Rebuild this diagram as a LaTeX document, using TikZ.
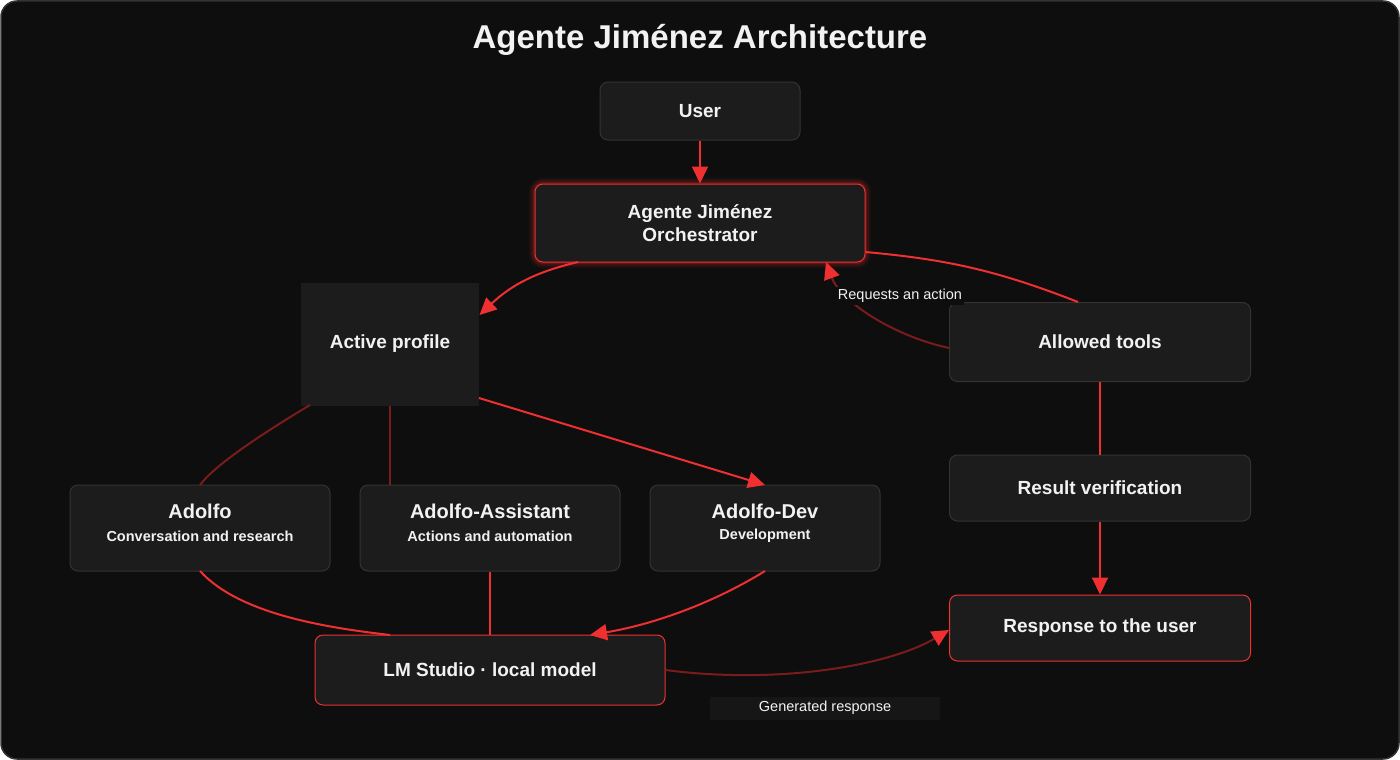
\documentclass[tikz,border=0pt]{standalone}
\usepackage{fontspec}
\setmainfont{Liberation Sans}
\usetikzlibrary{arrows.meta}
\definecolor{bg}{HTML}{0E0E0E}
\definecolor{boxf}{HTML}{1C1C1C}
\definecolor{boxd}{HTML}{333333}
\definecolor{rd}{HTML}{F03030}
\definecolor{drd}{HTML}{7A1C1C}
\definecolor{txt}{HTML}{F2F2F2}
\begin{document}
\begin{tikzpicture}[x=1pt,y=-1pt,
  box/.style={draw=boxd,fill=boxf,rounded corners=8pt,line width=1pt,text=txt,font=\bfseries\fontsize{19}{23}\selectfont,align=center},
  hot/.style={box,draw=rd},
  ln/.style={draw=rd,line width=2pt},
  dln/.style={draw=drd,line width=2pt},
  arr/.style={-{Triangle[length=17pt,width=16pt,color=rd]}},
  sub/.style={font=\bfseries\fontsize{14.5}{17}\selectfont,text=txt},
  lab/.style={font=\fontsize{14.5}{17}\selectfont,text=txt}]
\useasboundingbox (0,0) rectangle (1400,760);
\fill[bg,rounded corners=16pt,draw=boxd,line width=1.5pt] (1,1) rectangle (1399,759);
\node[text=txt,font=\bfseries\fontsize{33}{38}\selectfont] (title) at (700,40) {Agente Jiménez Architecture};
% nodes
\node[box,minimum width=200pt,minimum height=58pt] (user) at (700,111) {User};
\foreach \w/\o in {12/0.08,8/0.12,4/0.2}{
  \draw[rd,line width=\w pt,rounded corners=8pt,opacity=\o] (535,184) rectangle (865,262);}
\node[hot,minimum width=330pt,minimum height=78pt] (orch) at (700,223) {Agente Jiménez\\Orchestrator};
\node[box,draw=none,rounded corners=0pt,minimum width=178pt,minimum height=123pt] (act) at (390,344) {Active profile};
\node[box,minimum width=260pt,minimum height=86pt] (ad) at (200,528) {};
\node[text=txt,font=\bfseries\fontsize{20}{23}\selectfont] (adt) at (200,511) {Adolfo};
\node[sub] (ads) at (200,536) {Conversation and research};
\node[box,minimum width=260pt,minimum height=86pt] (as) at (490,528) {};
\node[text=txt,font=\bfseries\fontsize{20}{23}\selectfont] (ast) at (490,511) {Adolfo-Assistant};
\node[sub] (ass) at (490,536) {Actions and automation};
\node[box,minimum width=230pt,minimum height=86pt] (dv) at (765,528) {};
\node[text=txt,font=\bfseries\fontsize{20}{23}\selectfont] (dvt) at (765,511) {Adolfo-Dev};
\node[sub] (dvs) at (765,536) {Development};
\node[hot,minimum width=350pt,minimum height=70pt] (lm) at (490,670) {LM Studio · local model};
\node[box,minimum width=301pt,minimum height=79pt] (tools) at (1100,342) {Allowed tools};
\node[box,minimum width=301pt,minimum height=66pt] (ver) at (1100,488) {Result verification};
\node[hot,minimum width=301pt,minimum height=66pt] (resp) at (1100,628) {Response to the user};
% edges
\draw[ln,arr] (user.south) -- (orch.north);
\draw[ln,arr] (578,262) to[bend right=15] (act.east |- 0,315);
\draw[ln] (orch.east |- 0,252) to[bend left=8] (1078,302);
\draw[dln,arr] (tools.west |- 0,348) .. controls (890,335) and (840,300) .. (826,262);
\node[lab,fill=bg,inner sep=2pt] (req) at (900,296) {Requests an action};
\draw[ln,arr] (479,398) -- (765,485);
\draw[dln] (act.south) -- (as.north -| act.south);
\draw[dln] (310,405) .. controls (260,435) and (215,465) .. (200,485);
\draw[ln] (200,571) .. controls (240,615) and (330,628) .. (390,635);
\draw[ln] (as.south) -- (lm.north);
\draw[ln,arr] (765,571) .. controls (710,605) and (650,625) .. (590,635);
\draw[dln,arr] (lm.east |- 0,670) .. controls (780,685) and (890,665) .. (resp.west |- 0,630);
\node[fill=boxf!60!bg,minimum width=230pt,minimum height=23pt,lab] (gen) at (825,708) {Generated response};
\draw[ln] (tools.south) -- (ver.north);
\draw[ln,arr] (ver.south) -- (resp.north);
\end{tikzpicture}
\end{document}
